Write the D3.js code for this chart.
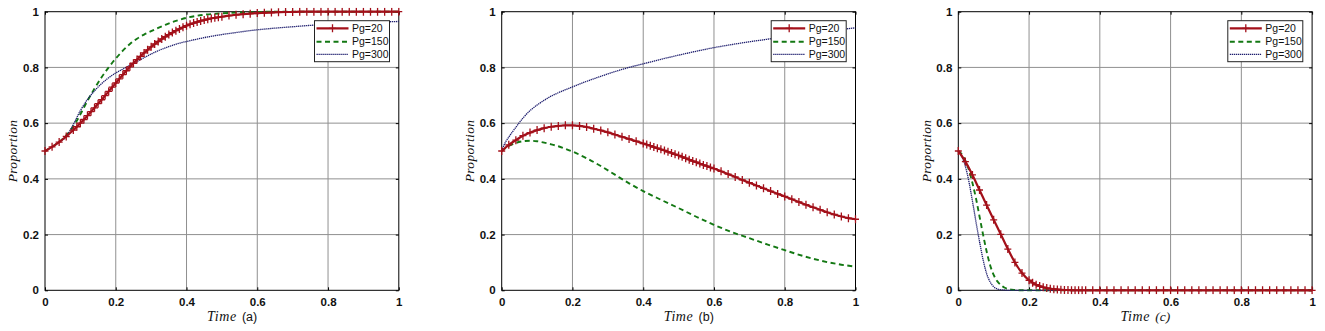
<!DOCTYPE html>
<html><head><meta charset="utf-8">
<script src="https://cdn.jsdelivr.net/npm/d3@7"></script>
<style>
html,body{margin:0;padding:0;background:#fff;}
svg{display:block;}
</style></head>
<body><svg id="chart" width="1325" height="331"></svg>
<script>
// ---------- DATA ----------
const seriesNames = ["Pg=20", "Pg=150", "Pg=300"];
const panelLabels = ["(a)", "(b)", "(c)"];
const xTicks = [0, 0.2, 0.4, 0.6, 0.8, 1];
const yTicks = [0, 0.2, 0.4, 0.6, 0.8, 1];
const xTickLabels = ["0", "0.2", "0.4", "0.6", "0.8", "1"];
const yTickLabels = ["0", "0.2", "0.4", "0.6", "0.8", "1"];

// Panel (a)
const timeA20 = [0,0.02,0.04,0.06,0.08,0.09,0.1,0.11,0.12,0.13,0.14,0.15,0.16,0.17,0.18,0.19,0.2,0.21,0.22,0.23,0.24,0.25,0.26,0.27,0.28,0.29,0.3,0.31,0.32,0.33,0.34,0.35,0.36,0.37,0.38,0.39,0.4,0.41,0.42,0.43,0.44,0.45,0.46,0.47,0.48,0.49,0.5,0.52,0.54,0.56,0.58,0.6,0.62,0.64,0.66,0.68,0.7,0.72,0.74,0.76,0.78,0.8,0.82,0.84,0.86,0.88,0.9,0.92,0.94,0.96,0.98,1];
const propA20 = [0.5,0.515,0.532,0.552,0.575,0.587,0.6,0.613,0.627,0.641,0.655,0.67,0.684,0.699,0.714,0.729,0.744,0.759,0.774,0.788,0.802,0.815,0.828,0.84,0.852,0.863,0.874,0.884,0.893,0.902,0.91,0.918,0.925,0.932,0.938,0.944,0.95,0.955,0.959,0.963,0.967,0.97,0.973,0.976,0.978,0.98,0.982,0.986,0.989,0.991,0.993,0.995,0.996,0.997,0.998,0.999,0.999,1,1,1,1,1,1,1,1,1,1,1,1,1,1,1];
const timeA = [0,0.02,0.04,0.06,0.08,0.1,0.12,0.14,0.16,0.18,0.2,0.22,0.24,0.26,0.28,0.3,0.32,0.34,0.36,0.38,0.4,0.45,0.5,0.55,0.6,0.65,0.7,0.75,0.8,0.85,0.9,0.95,1];
const propA150 = [0.5,0.515,0.533,0.556,0.588,0.632,0.68,0.724,0.765,0.8,0.832,0.86,0.884,0.903,0.918,0.93,0.942,0.953,0.963,0.971,0.978,0.989,0.994,0.997,0.999,1,1,1,1,1,1,1,1];
const propA300 = [0.5,0.515,0.532,0.552,0.595,0.645,0.685,0.716,0.742,0.763,0.78,0.794,0.808,0.821,0.835,0.848,0.86,0.87,0.879,0.887,0.893,0.907,0.918,0.927,0.935,0.941,0.946,0.951,0.955,0.958,0.961,0.963,0.965];

// Panel (b)
const timeB20 = [0,0.02,0.04,0.06,0.08,0.1,0.12,0.14,0.16,0.18,0.2,0.22,0.24,0.26,0.28,0.3,0.32,0.34,0.36,0.38,0.4,0.41,0.42,0.43,0.44,0.45,0.46,0.47,0.48,0.49,0.5,0.51,0.52,0.53,0.54,0.55,0.56,0.57,0.58,0.59,0.6,0.62,0.64,0.66,0.68,0.7,0.72,0.74,0.76,0.78,0.8,0.82,0.84,0.86,0.88,0.9,0.92,0.94,0.96,0.98,1];
const propB20 = [0.5,0.522,0.539,0.555,0.566,0.575,0.582,0.587,0.59,0.592,0.592,0.59,0.586,0.58,0.574,0.567,0.559,0.551,0.543,0.535,0.527,0.523,0.519,0.514,0.51,0.506,0.502,0.497,0.493,0.488,0.484,0.479,0.474,0.469,0.464,0.46,0.455,0.45,0.446,0.441,0.437,0.427,0.417,0.407,0.396,0.386,0.376,0.366,0.356,0.346,0.337,0.327,0.317,0.307,0.298,0.289,0.28,0.272,0.265,0.259,0.255];
const timeB = [0,0.01,0.02,0.04,0.06,0.08,0.1,0.12,0.14,0.16,0.18,0.2,0.24,0.28,0.32,0.36,0.4,0.45,0.5,0.55,0.6,0.65,0.7,0.75,0.8,0.85,0.9,0.95,1];
const propB150 = [0.5,0.51,0.518,0.529,0.535,0.537,0.535,0.53,0.524,0.517,0.508,0.498,0.474,0.446,0.415,0.384,0.356,0.325,0.295,0.264,0.235,0.209,0.187,0.165,0.144,0.124,0.107,0.094,0.085];
const propB300 = [0.5,0.53,0.55,0.585,0.618,0.645,0.665,0.682,0.697,0.709,0.72,0.73,0.75,0.768,0.785,0.8,0.813,0.829,0.844,0.858,0.871,0.882,0.892,0.901,0.91,0.919,0.927,0.935,0.942];

// Panel (c)
const timeC20 = [0,0.02,0.04,0.06,0.08,0.1,0.12,0.14,0.16,0.18,0.2,0.21,0.22,0.23,0.24,0.25,0.26,0.27,0.28,0.29,0.3,0.31,0.32,0.33,0.34,0.35,0.36,0.38,0.4,0.42,0.44,0.46,0.48,0.5,0.52,0.54,0.56,0.58,0.6,0.62,0.64,0.66,0.68,0.7,0.72,0.74,0.76,0.78,0.8,0.82,0.84,0.86,0.88,0.9,0.92,0.94,0.96,0.98,1];
const propC20 = [0.5,0.462,0.414,0.36,0.306,0.253,0.201,0.148,0.1,0.062,0.036,0.027,0.02,0.015,0.011,0.008,0.006,0.004,0.003,0.002,0.001,0.001,0,0,0,0,0,0,0,0,0,0,0,0,0,0,0,0,0,0,0,0,0,0,0,0,0,0,0,0,0,0,0,0,0,0,0,0,0];
const timeC = [0,0.01,0.02,0.03,0.04,0.05,0.06,0.07,0.08,0.09,0.1,0.11,0.12,0.13,0.14,0.15,0.16,0.18,0.2,0.3,0.5,1];
const propC150 = [0.5,0.488,0.465,0.432,0.385,0.33,0.265,0.2,0.14,0.09,0.055,0.033,0.019,0.01,0.005,0.002,0.001,0,0,0,0,0];
const propC300 = [0.5,0.48,0.445,0.39,0.32,0.245,0.175,0.11,0.06,0.03,0.013,0.005,0.002,0.001,0,0,0,0,0,0,0,0];

const panelsData = [
  {label: panelLabels[0], t20: timeA20, v20: propA20, t: timeA, v150: propA150, v300: propA300},
  {label: panelLabels[1], t20: timeB20, v20: propB20, t: timeB, v150: propB150, v300: propB300},
  {label: panelLabels[2], t20: timeC20, v20: propC20, t: timeC, v150: propC150, v300: propC300}
];

// ---------- STYLE / LAYOUT ----------
const colors = {red: "#a3101a", green: "#137813", navy: "#1e1e6e"};
const lefts = [45, 501.7, 958.3];
const plotW = 353.8, plotTop = 11.7, plotBottom = 290.3;
const ylabX = [17, 474, 931];

const svg = d3.select("#chart");

panelsData.forEach((pd, i) => {
  const x0 = lefts[i], x1 = x0 + plotW;
  const x = d3.scaleLinear().domain([0, 1]).range([x0, x1]);
  const y = d3.scaleLinear().domain([0, 1]).range([plotBottom, plotTop]);
  const g = svg.append("g");

  // grid
  g.append("g").selectAll("line").data(xTicks.slice(1, -1)).join("line")
    .attr("x1", d => x(d)).attr("x2", d => x(d)).attr("y1", plotTop).attr("y2", plotBottom)
    .attr("stroke", "#909090").attr("stroke-width", 1);
  g.append("g").selectAll("line").data(yTicks.slice(1, -1)).join("line")
    .attr("y1", d => y(d)).attr("y2", d => y(d)).attr("x1", x0).attr("x2", x1)
    .attr("stroke", "#909090").attr("stroke-width", 1);

  // axes (ticks inward)
  const fontTick = "bold 11.5px 'Liberation Sans', Arial, sans-serif";
  const ax = g.append("g").attr("transform", `translate(0,${plotBottom})`)
    .call(d3.axisBottom(x).tickValues(xTicks).tickSize(-3).tickPadding(8)
      .tickFormat((d, k) => xTickLabels[k]));
  const ay = g.append("g").attr("transform", `translate(${x0},0)`)
    .call(d3.axisLeft(y).tickValues(yTicks).tickSize(-3).tickPadding(8)
      .tickFormat((d, k) => yTickLabels[k]));
  const axT = g.append("g").attr("transform", `translate(0,${plotTop})`)
    .call(d3.axisTop(x).tickValues(xTicks).tickSize(-3).tickFormat(""));
  const ayR = g.append("g").attr("transform", `translate(${x1},0)`)
    .call(d3.axisRight(y).tickValues(yTicks).tickSize(-3).tickFormat(""));
  [ax, ay, axT, ayR].forEach(a => {
    a.select(".domain").remove();
    a.selectAll("line").attr("stroke", "#000");
    a.selectAll("text").style("font", fontTick).attr("fill", "#111");
  });
  ay.selectAll("text").attr("dx", "2");
  // box
  g.append("rect").attr("x", x0).attr("y", plotTop).attr("width", plotW).attr("height", plotBottom - plotTop)
    .attr("fill", "none").attr("stroke", "#000").attr("stroke-width", 1);

  // lines
  const line = d3.line().x(d => x(d[0])).y(d => y(d[1])).curve(d3.curveMonotoneX);
  const clipId = "clip" + i;
  svg.append("clipPath").attr("id", clipId).append("rect")
    .attr("x", x0 - 4).attr("y", plotTop - 4).attr("width", plotW + 8).attr("height", plotBottom - plotTop + 8);
  const lg = g.append("g").attr("clip-path", `url(#${clipId})`);
  const d150 = pd.t.map((t, k) => [t, pd.v150[k]]);
  const d300 = pd.t.map((t, k) => [t, pd.v300[k]]);
  const d20 = pd.t20.map((t, k) => [t, pd.v20[k]]);

  lg.append("path").attr("d", line(d150)).attr("fill", "none")
    .attr("stroke", colors.green).attr("stroke-width", 1.9).attr("stroke-dasharray", "5,3.5");
  lg.append("path").attr("d", line(d300)).attr("fill", "none")
    .attr("stroke", colors.navy).attr("stroke-width", 1.3).attr("stroke-dasharray", "1.3,0.7");
  lg.append("path").attr("d", line(d20)).attr("fill", "none")
    .attr("stroke", colors.red).attr("stroke-width", 2.2);
  lg.append("g").selectAll("path").data(d20).join("path")
    .attr("d", d => { const px = x(d[0]), py = y(d[1]);
      return `M${px - 3.5},${py}H${px + 3.5}M${px},${py - 4}V${py + 4}`; })
    .attr("stroke", colors.red).attr("stroke-width", 1.3).attr("fill", "none");

  // axis labels
  g.append("text").attr("x", (x0 + x1) / 2).attr("y", 321)
    .attr("text-anchor", "middle")
    .style("font", "italic 14px 'Liberation Serif', 'DejaVu Serif', serif")
    .style("letter-spacing", "0.6px").attr("fill", "#111").text("Time");
  g.append("text").attr("x", (x0 + x1) / 2 + 20).attr("y", 321)
    .style("font", i === 2 ? "italic 13.5px 'Liberation Serif', serif" : "12.5px 'Liberation Sans', Arial, sans-serif")
    .attr("fill", "#111").text(pd.label);
  g.append("text").attr("transform", `translate(${ylabX[i]},${(plotTop + plotBottom) / 2}) rotate(-90)`)
    .attr("text-anchor", "middle")
    .style("font", "italic 13.5px 'Liberation Serif', 'DejaVu Serif', serif")
    .style("letter-spacing", "0.3px").attr("fill", "#111").text("Proportion");

  // legend
  const lx = x1 - 9.3 - 75, ly = plotTop + 9;
  const leg = g.append("g");
  leg.append("rect").attr("x", lx).attr("y", ly).attr("width", 75).attr("height", 41)
    .attr("fill", "#fff").attr("stroke", "#222").attr("stroke-width", 1);
  const rows = [7.6, 21, 33.6];
  const styles = [
    {c: colors.red, w: 2.2, dash: null},
    {c: colors.green, w: 1.9, dash: "5,3.5"},
    {c: colors.navy, w: 1.3, dash: "1.3,0.7"}
  ];
  seriesNames.forEach((name, k) => {
    const ry = ly + rows[k];
    const ln = leg.append("line").attr("x1", lx + 2).attr("x2", lx + 34).attr("y1", ry).attr("y2", ry)
      .attr("stroke", styles[k].c).attr("stroke-width", styles[k].w);
    if (styles[k].dash) ln.attr("stroke-dasharray", styles[k].dash);
    if (k === 0) {
      const cx = lx + 18;
      leg.append("path").attr("d", `M${cx - 3.5},${ry}H${cx + 3.5}M${cx},${ry - 4}V${ry + 4}`)
        .attr("stroke", colors.red).attr("stroke-width", 1.3);
    }
    leg.append("text").attr("x", lx + 37.5).attr("y", ry + 3.6)
      .style("font", "10.5px 'Liberation Sans', Arial, sans-serif").attr("fill", "#111").text(name);
  });
});
</script>
</body></html>
